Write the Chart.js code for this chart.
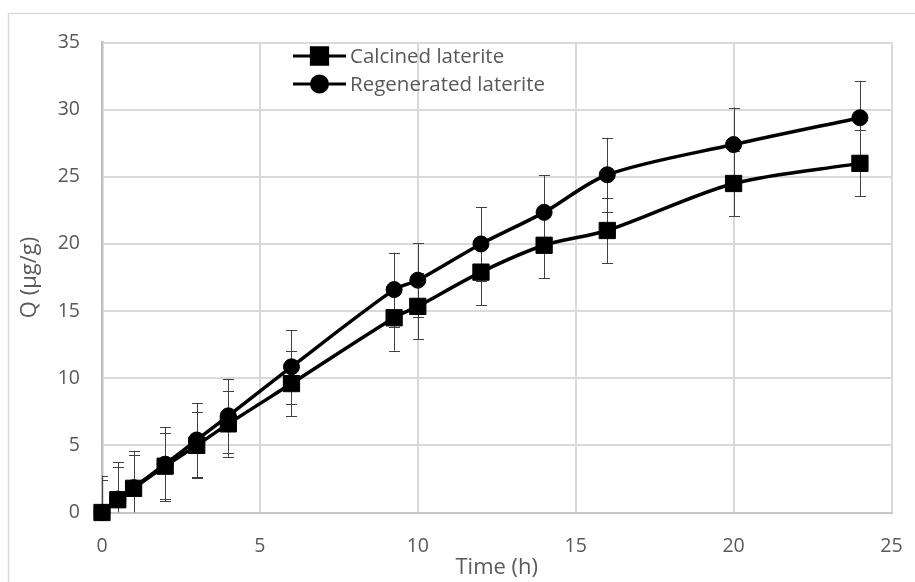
<!DOCTYPE html>
<html lang="en">
<head>
    <meta charset="UTF-8">
    <title>Q vs time</title>
    <script src="https://cdn.jsdelivr.net/npm/chart.js@4.4.1/dist/chart.umd.min.js"></script>
    <style>
        body { margin: 0; background: #fff; }
    </style>
</head>
<body>
    <canvas id="chart" width="915" height="582"></canvas>

    <script>
        // time points (h)
        var timeLabels = [0, 0.5, 1, 2, 3, 4, 6, 9.25, 10, 12, 14, 16, 20, 24]
        var calcined = [0, 0.95, 1.8, 3.45, 5.0, 6.6, 9.6, 14.5, 15.35, 17.9, 19.9, 21.0, 24.5, 26.0]
        var regenerated = [0, 1.0, 1.85, 3.6, 5.4, 7.2, 10.85, 16.6, 17.3, 20.0, 22.35, 25.15, 27.4, 29.4]
        // error bars (constant, +/-)
        var calcinedErr = [2.45, 2.45, 2.45, 2.45, 2.45, 2.45, 2.45, 2.45, 2.45, 2.45, 2.45, 2.45, 2.45, 2.45]
        var regeneratedErr = [2.75, 2.75, 2.75, 2.75, 2.75, 2.75, 2.75, 2.75, 2.75, 2.75, 2.75, 2.75, 2.75, 2.75]
        var seriesNames = ["Calcined laterite", "Regenerated laterite"]
        var xTicks = [0, 5, 10, 15, 20, 25]
        var yTicks = [0, 5, 10, 15, 20, 25, 30, 35]
    </script>
    <script>
        function toPoints(values) {
            return timeLabels.map(function(t, i) { return {x: t, y: values[i]} })
        }

        var textColor = '#595959'
        var fontName = "'Open Sans', sans-serif"

        // outer frame
        var framePlugin = {
            id: 'frame',
            beforeDraw: function(chart) {
                var ctx = chart.ctx
                ctx.save()
                ctx.fillStyle = '#fff'
                ctx.fillRect(0, 0, chart.width, chart.height)
                ctx.strokeStyle = '#d9d9d9'
                ctx.lineWidth = 1.5
                ctx.beginPath()
                ctx.moveTo(8.5, chart.height + 2)
                ctx.lineTo(8.5, 13.5)
                ctx.lineTo(chart.width + 2, 13.5)
                ctx.stroke()
                ctx.restore()
            }
        }

        // error bars drawn under markers
        var errorBarPlugin = {
            id: 'errorBars',
            beforeDatasetsDraw: function(chart) {
                var ctx = chart.ctx
                var xs = chart.scales.x, ys = chart.scales.y
                var area = chart.chartArea
                var errs = [calcinedErr, regeneratedErr]
                ctx.save()
                ctx.beginPath()
                ctx.rect(area.left, area.top - 30, area.right - area.left + 10, area.bottom - area.top + 30)
                ctx.clip()
                ctx.strokeStyle = '#404040'
                ctx.lineWidth = 1
                chart.data.datasets.forEach(function(ds, d) {
                    ds.data.forEach(function(p, i) {
                        var x = Math.round(xs.getPixelForValue(p.x)) + 0.5
                        var top = ys.getPixelForValue(p.y + errs[d][i])
                        var bot = Math.min(ys.getPixelForValue(p.y - errs[d][i]), area.bottom)
                        ctx.beginPath()
                        ctx.moveTo(x, top)
                        ctx.lineTo(x, bot)
                        ctx.moveTo(x - 5.5, Math.round(top) + 0.5)
                        ctx.lineTo(x + 5.5, Math.round(top) + 0.5)
                        if (bot < area.bottom) {
                            ctx.moveTo(x - 5.5, Math.round(bot) + 0.5)
                            ctx.lineTo(x + 5.5, Math.round(bot) + 0.5)
                        }
                        ctx.stroke()
                    })
                })
                ctx.restore()
            }
        }

        // legend inside the plot area
        var legendPlugin = {
            id: 'insideLegend',
            afterDraw: function(chart) {
                var ctx = chart.ctx
                var rows = [56, 84]
                var styles = ['rect', 'circle']
                var radii = [11.5, 8]
                ctx.save()
                for (var i = 0; i < 2; i++) {
                    var y = rows[i]
                    ctx.strokeStyle = '#000'
                    ctx.lineWidth = 3
                    ctx.beginPath()
                    ctx.moveTo(293, y)
                    ctx.lineTo(346, y)
                    ctx.stroke()
                    ctx.fillStyle = '#000'
                    Chart.helpers.drawPoint(ctx, {pointStyle: styles[i], radius: radii[i], borderWidth: 1, rotation: 0}, 319.5, y)
                    ctx.fillStyle = textColor
                    ctx.font = '20.5px ' + fontName
                    ctx.textBaseline = 'middle'
                    ctx.textAlign = 'left'
                    ctx.fillText(seriesNames[i], 350, y + 1)
                }
                ctx.restore()
            }
        }

        var ctx = document.getElementById('chart').getContext('2d')
        var myChart = new Chart(ctx, {
            type: 'line',
            data: {
                datasets: [{
                    label: seriesNames[0],
                    data: toPoints(calcined),
                    borderColor: '#000',
                    backgroundColor: '#000',
                    borderWidth: 3.5,
                    pointStyle: 'rect',
                    pointRadius: 11.5,
                    pointHoverRadius: 11.5,
                    pointBorderWidth: 1,
                    tension: 0.3,
                    clip: false
                },
                {
                    label: seriesNames[1],
                    data: toPoints(regenerated),
                    borderColor: '#000',
                    backgroundColor: '#000',
                    borderWidth: 3.5,
                    pointStyle: 'circle',
                    pointRadius: 8,
                    pointHoverRadius: 8,
                    pointBorderWidth: 1,
                    tension: 0.3,
                    clip: false
                }]
            },
            options: {
                responsive: false,
                animation: false,
                layout: { padding: { left: 8, top: 42.5, right: 23.5, bottom: 0 } },
                plugins: {
                    legend: { display: false },
                    tooltip: { enabled: false }
                },
                scales: {
                    x: {
                        type: 'linear',
                        min: 0,
                        max: 25,
                        afterBuildTicks: function(scale) { scale.ticks = xTicks.map(function(v) { return {value: v} }) },
                        afterFit: function(scale) {
                            scale.height = 69.5
                            scale.paddingLeft = 0
                            scale.paddingRight = 0
                        },
                        ticks: { color: textColor, font: { family: fontName, size: 19.5 }, padding: 22, maxRotation: 0 },
                        grid: { color: '#d9d9d9', lineWidth: 2, drawTicks: false },
                        border: { color: '#c8c8c8', width: 2 },
                        title: { display: true, text: 'Time (h)', color: textColor, font: { family: fontName, size: 22 }, padding: { top: 0, bottom: 1 } }
                    },
                    y: {
                        min: 0,
                        max: 35,
                        afterBuildTicks: function(scale) { scale.ticks = yTicks.map(function(v) { return {value: v} }) },
                        afterFit: function(scale) {
                            scale.width = 94
                            scale.paddingTop = 0
                            scale.paddingBottom = 0
                        },
                        ticks: { color: textColor, font: { family: fontName, size: 19.5 }, padding: 22 },
                        grid: { color: '#d9d9d9', lineWidth: 2, drawTicks: false },
                        border: { color: '#bfbfbf', width: 2.5 },
                        title: { display: true, text: 'Q (μg/g)', color: textColor, font: { family: fontName, size: 22 }, padding: { top: 9, bottom: 0 } }
                    }
                }
            },
            plugins: [framePlugin, errorBarPlugin, legendPlugin]
        });
    </script>
</body>
</html>
